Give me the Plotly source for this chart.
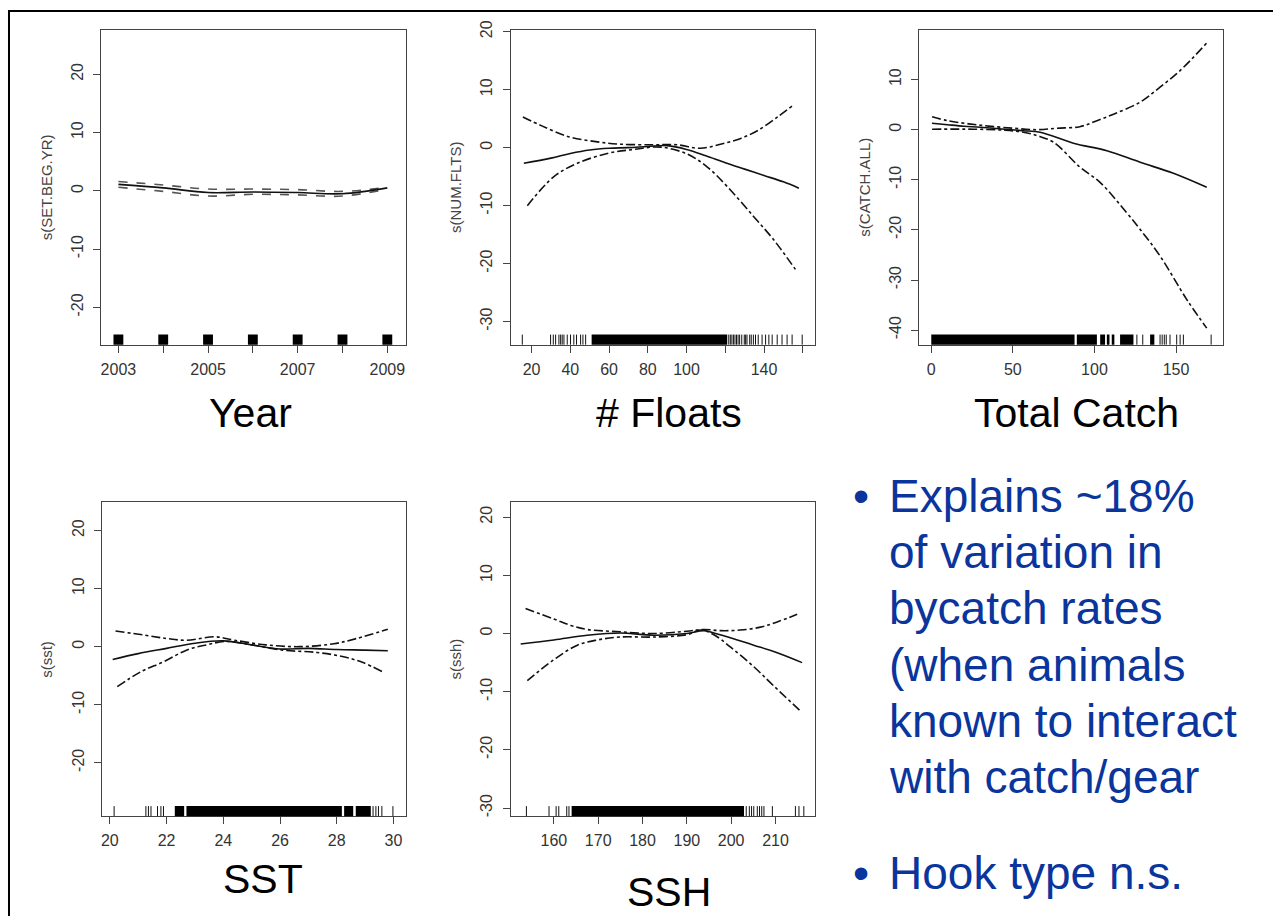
import plotly.graph_objects as go

W, H = 1273, 917

# ---------------- data ----------------
# Panel 1: Year
year_x = [2003, 2004, 2005, 2006, 2007, 2008, 2009]
year_fit = [1.1, 0.5, -0.3, -0.2, -0.3, -0.5, 0.5]
year_upper = [1.6, 1.0, 0.3, 0.3, 0.2, -0.1, 0.6]
year_lower = [0.6, -0.1, -0.9, -0.6, -0.7, -0.9, 0.3]
year_rug = [2003, 2004, 2005, 2006, 2007, 2008, 2009]

# Panel 2: # Floats
flt_fit_x = [16.0, 30, 40, 50, 60, 70, 80, 90, 100, 110, 120, 130, 140, 150, 158]
flt_fit = [-2.7, -1.8, -1.0, -0.4, -0.1, 0.0, 0.2, 0.35, -0.3, -1.4, -2.6, -3.7, -4.8, -5.9, -7.0]
flt_up_x = [15.5, 25, 39, 54, 66, 83, 95, 107, 117.5, 128, 137, 147, 155]
flt_up = [5.3, 3.8, 1.9, 1.0, 0.6, 0.5, 0.5, -0.1, 0.6, 1.6, 3.0, 5.3, 7.3]
flt_lo_x = [17.8, 31.5, 43.6, 59.1, 72.8, 86.6, 100.3, 110.6, 121, 134.7, 145, 156.2]
flt_lo = [-10.0, -5.0, -2.7, -1.0, -0.3, 0.1, -1.1, -3.3, -6.7, -11.9, -15.9, -21.0]
flt_rug_ticks = [15.2, 29.8, 31.2, 32.4, 34.1, 35.0, 35.8, 36.7, 38.4, 40.1, 41.8, 43.2,
                 45.3, 46.5, 47.9, 121.8, 122.6, 123.4, 124.2, 125.0, 125.8, 126.6,
                 127.4, 128.5, 129.8, 130.5, 131.2, 132.6, 133.4, 134.5, 135.6, 137.0,
                 139.0, 140.8, 142.5, 144.2, 146.8, 149.3, 151.9, 154.5, 159.7]
flt_rug_spans = [(51.0, 121.0)]

# Panel 3: Total Catch
cat_fit_x = [0.4, 10, 20, 30, 45, 56.5, 66.7, 87.1, 107.6, 128, 148.4, 168.8]
cat_fit = [1.3, 1.0, 0.7, 0.5, 0.1, -0.2, -0.5, -2.7, -4.2, -6.5, -8.7, -11.5]
cat_up_x = [0.5, 10, 30, 50, 65, 77, 91, 101.5, 111.7, 128, 140.2, 152.5, 168.8]
cat_up = [2.6, 1.8, 0.9, 0.3, 0.0, 0.3, 0.6, 1.8, 3.1, 5.5, 8.5, 11.8, 17.3]
cat_lo_x = [0.5, 26, 45, 56.5, 65, 74.9, 91.2, 103.4, 119.8, 128, 140.2, 156.6, 168.8]
cat_lo = [0.1, 0.1, -0.1, -0.5, -1.2, -2.5, -7.5, -10.5, -16.6, -19.9, -25.2, -33.9, -39.6]
cat_rug_ticks = [126.0, 129.6, 140.2, 141.5, 142.8, 144.0, 146.3, 150.4, 152.5, 154.5, 171.5]
cat_rug_spans = [(0.0, 87.8), (89.2, 101.5), (103.5, 106.5), (107.6, 109.2),
                 (110.6, 112.2), (115.7, 123.9), (134.1, 136.7)]

# Panel 4: SST
sst_fit_x = [20.1, 21, 22, 23, 24, 25, 26, 27, 28, 29, 29.8]
sst_fit = [-2.2, -1.2, -0.3, 0.6, 1.0, 0.3, -0.4, -0.3, -0.5, -0.6, -0.7]
sst_up_x = [20.2, 21.2, 22.0, 22.7, 23.7, 24.4, 25.5, 26.7, 27.9, 28.7, 29.8]
sst_up = [2.7, 2.0, 1.4, 1.1, 1.7, 1.1, 0.3, 0.0, 0.5, 1.4, 3.0]
sst_lo_x = [20.26, 21.1, 21.9, 22.7, 23.4, 24.1, 25.0, 26.1, 27.3, 28.2, 28.9, 29.6]
sst_lo = [-6.9, -4.3, -2.6, -0.6, 0.3, 0.9, 0.3, -0.6, -1.0, -1.7, -2.7, -4.3]
sst_rug_ticks = [20.15, 21.27, 21.36, 21.45, 21.68, 21.80, 21.89, 29.28, 29.38, 29.47, 29.59, 29.98]
sst_rug_spans = [(22.29, 22.62), (22.70, 28.18), (28.26, 28.58), (28.67, 29.20)]

# Panel 5: SSH
ssh_fit_x = [152.5, 160, 167.5, 175, 182.6, 190, 193.8, 196.1, 201.4, 205.1, 210.4, 216]
ssh_fit = [-1.8, -1.1, -0.3, 0.1, -0.3, 0.0, 0.5, 0.1, -1.1, -2.0, -3.3, -5.0]
ssh_up_x = [153.6, 160, 163.8, 167.5, 175, 182.6, 190, 193.8, 197.6, 202.1, 206.6, 210.4, 214.9]
ssh_up = [4.3, 2.5, 1.4, 0.7, 0.3, 0.0, 0.4, 0.7, 0.5, 0.6, 1.1, 2.0, 3.3]
ssh_lo_x = [154, 160, 165.3, 169.8, 175, 182.6, 190, 193.1, 196.1, 199.8, 205.1, 209.6, 215.6]
ssh_lo = [-8.1, -4.5, -2.0, -1.1, -0.6, -0.6, -0.2, 0.6, -0.2, -2.3, -5.7, -9.0, -13.3]
ssh_rug_ticks = [153.8, 158.9, 160.5, 161.1, 162.9, 163.4, 203.4, 204.1, 204.6, 205.1,
                 205.9, 206.4, 206.9, 207.4, 209.3, 214.5, 215.3, 216.4]
ssh_rug_spans = [(164.0, 202.9)]

# Axis tick labels
year_ticks = [2003, 2004, 2005, 2006, 2007, 2008, 2009]
year_ticktext = ["2003", "", "2005", "", "2007", "", "2009"]
flt_ticks = [20, 40, 60, 80, 100, 120, 140, 160]
flt_ticktext = ["20", "40", "60", "80", "100", "", "140", ""]
cat_ticks = [0, 50, 100, 150]
sst_ticks = [20, 22, 24, 26, 28, 30]
ssh_ticks = [160, 170, 180, 190, 200, 210]

y_titles = ["s(SET.BEG.YR)", "s(NUM.FLTS)", "s(CATCH.ALL)", "s(sst)", "s(ssh)"]
panel_titles = ["Year", "# Floats", "Total Catch", "SST", "SSH"]
bullet_lines = ["Explains ~18%", "of variation in", "bycatch rates",
                "(when animals", "known to interact", "with catch/gear"]
bullet2 = "Hook type n.s."

# ---------------- layout geometry ----------------
FONT = "Liberation Sans, Arial, Helvetica, sans-serif"
BLUE = "#0a359c"

# vertical pixel mapping (compensates the capture's top offset / vertical scale)
TOP_OFF, VSCALE = 10.0, 0.989


def PY(y):
    """target pixel row -> paper fraction"""
    yf = max((y - TOP_OFF) / VSCALE, 1.0)
    return 1 - yf / H


def PX(x):
    return x / W


panels = [
    dict(box=(100, 30, 405, 345), xr=[2002.61, 2009.41], yr=[-26.4, 27.6],
         xt=year_ticks, xtt=year_ticktext, yt=[-20, -10, 0, 10, 20]),
    dict(box=(510, 30, 815, 345), xr=[9.16, 166.5], yr=[-33.98, 20.3],
         xt=flt_ticks, xtt=flt_ticktext, yt=[-30, -20, -10, 0, 10, 20]),
    dict(box=(919, 30, 1223, 345), xr=[-7.35, 178.8], yr=[-42.9, 19.9],
         xt=cat_ticks, xtt=[str(v) for v in cat_ticks], yt=[-40, -30, -20, -10, 0, 10]),
    dict(box=(101, 502, 405, 817), xr=[19.72, 30.43], yr=[-29.2, 25.0],
         xt=sst_ticks, xtt=[str(v) for v in sst_ticks], yt=[-20, -10, 0, 10, 20]),
    dict(box=(510, 502, 815, 817), xr=[150.23, 219.0], yr=[-31.4, 22.7],
         xt=ssh_ticks, xtt=[str(v) for v in ssh_ticks], yt=[-30, -20, -10, 0, 10, 20]),
]

series = [
    (year_x, year_fit, year_x, year_upper, year_x, year_lower),
    (flt_fit_x, flt_fit, flt_up_x, flt_up, flt_lo_x, flt_lo),
    (cat_fit_x, cat_fit, cat_up_x, cat_up, cat_lo_x, cat_lo),
    (sst_fit_x, sst_fit, sst_up_x, sst_up, sst_lo_x, sst_lo),
    (ssh_fit_x, ssh_fit, ssh_up_x, ssh_up, ssh_lo_x, ssh_lo),
]

rugs = [
    ([], [(y - 0.11, y + 0.11) for y in year_rug]),
    (flt_rug_ticks, flt_rug_spans),
    (cat_rug_ticks, cat_rug_spans),
    (sst_rug_ticks, sst_rug_spans),
    (ssh_rug_ticks, ssh_rug_spans),
]

fig = go.Figure()
shapes = []
annotations = []
layout_axes = {}

for i, (p, s, r) in enumerate(zip(panels, series, rugs), start=1):
    xs = "" if i == 1 else str(i)
    xa, ya = "x" + xs, "y" + xs
    fx, fy, ux, uy, lx, ly = s
    band_color = "#555555" if i == 1 else "#111111"
    band_dash = "dash" if i == 1 else "dashdot"
    fig.add_trace(go.Scatter(x=ux, y=uy, mode="lines", xaxis=xa, yaxis=ya,
                             line=dict(color=band_color, width=1.6, dash=band_dash, shape="spline"),
                             hoverinfo="skip"))
    fig.add_trace(go.Scatter(x=lx, y=ly, mode="lines", xaxis=xa, yaxis=ya,
                             line=dict(color=band_color, width=1.6, dash=band_dash, shape="spline"),
                             hoverinfo="skip"))
    fig.add_trace(go.Scatter(x=fx, y=fy, mode="lines", xaxis=xa, yaxis=ya,
                             line=dict(color="#111111", width=1.6, shape="spline"),
                             hoverinfo="skip"))
    ticks, spans = r
    for t in ticks:
        shapes.append(dict(type="line", xref=xa, yref=ya + " domain", x0=t, x1=t, y0=0, y1=0.032,
                           line=dict(color="#111111", width=1)))
    for a, b in spans:
        shapes.append(dict(type="rect", xref=xa, yref=ya + " domain", x0=a, x1=b, y0=0, y1=0.032,
                           fillcolor="#000000", line=dict(width=0)))

    x0, y0, x1, y1 = p["box"]
    layout_axes["xaxis" + xs] = dict(
        domain=[PX(x0), PX(x1)], range=p["xr"], anchor=ya,
        showline=True, mirror=True, linecolor="#444444", linewidth=1,
        ticks="outside", ticklen=7, tickcolor="#444444", tickwidth=1,
        tickvals=p["xt"], ticktext=p["xtt"], tickfont=dict(family=FONT, size=16, color="#333333"),
        showgrid=False, zeroline=False, ticklabelstandoff=3)
    layout_axes["yaxis" + xs] = dict(
        domain=[PY(y1), PY(y0)], range=p["yr"], anchor=xa,
        showline=True, mirror=True, linecolor="#444444", linewidth=1,
        ticks="outside", ticklen=7, tickcolor="#444444", tickwidth=1,
        tickvals=p["yt"], ticktext=[str(v) for v in p["yt"]],
        tickangle=-90, tickfont=dict(family=FONT, size=16, color="#333333"),
        showgrid=False, zeroline=False, ticklabelstandoff=4)

    # y-axis title
    annotations.append(dict(text=y_titles[i - 1], xref="paper", yref="paper",
                            x=PX(x0 - 55), y=PY((y0 + y1) / 2),
                            xanchor="center", yanchor="middle", textangle=-90, showarrow=False,
                            font=dict(family=FONT, size=15, color="#444444")))

# panel titles (x centre, cap-centre y)
title_pos = [(250, 413), (669, 413), (1076, 413), (262, 880), (669, 893)]
for t, (cx, cy) in zip(panel_titles, title_pos):
    annotations.append(dict(text=t, xref="paper", yref="paper", x=PX(cx), y=PY(cy),
                            xanchor="center", yanchor="middle", showarrow=False,
                            font=dict(family=FONT, size=41, color="#000000")))

# bullet text
line_y = [496.7, 552.9, 609.1, 665.3, 721.5, 777.7]
for t, cy in zip(bullet_lines, line_y):
    annotations.append(dict(text=t, xref="paper", yref="paper", x=PX(887), y=PY(cy),
                            xanchor="left", yanchor="middle", showarrow=False,
                            font=dict(family=FONT, size=46, color=BLUE)))
annotations.append(dict(text=bullet2, xref="paper", yref="paper", x=PX(887), y=PY(873.5),
                        xanchor="left", yanchor="middle", showarrow=False,
                        font=dict(family=FONT, size=46, color=BLUE)))
for cy in (496.7, 873.5):
    annotations.append(dict(text="•", xref="paper", yref="paper", x=PX(861), y=PY(cy),
                            xanchor="center", yanchor="middle", showarrow=False,
                            font=dict(family=FONT, size=46, color=BLUE)))

# slide border (top and left)
shapes.append(dict(type="line", xref="paper", yref="paper", x0=PX(7), x1=1, y0=PY(5), y1=PY(5),
                   line=dict(color="#000000", width=2)))
shapes.append(dict(type="line", xref="paper", yref="paper", x0=PX(8), x1=PX(8), y0=PY(5), y1=0,
                   line=dict(color="#000000", width=2)))

fig.update_layout(width=W, height=H, margin=dict(l=0, r=0, t=0, b=0),
                  paper_bgcolor="white", plot_bgcolor="white", showlegend=False,
                  shapes=shapes, annotations=annotations, **layout_axes)

post = ("document.documentElement.style.overflow='hidden';"
        "document.body.style.margin='0';document.body.style.padding='0';"
        "var d=document.getElementById('{plot_id}');"
        "d.style.position='fixed';d.style.left='0px';d.style.top='0px';d.style.margin='0';")
fig.write_html("out.html", post_script=post, config={"displayModeBar": False})
